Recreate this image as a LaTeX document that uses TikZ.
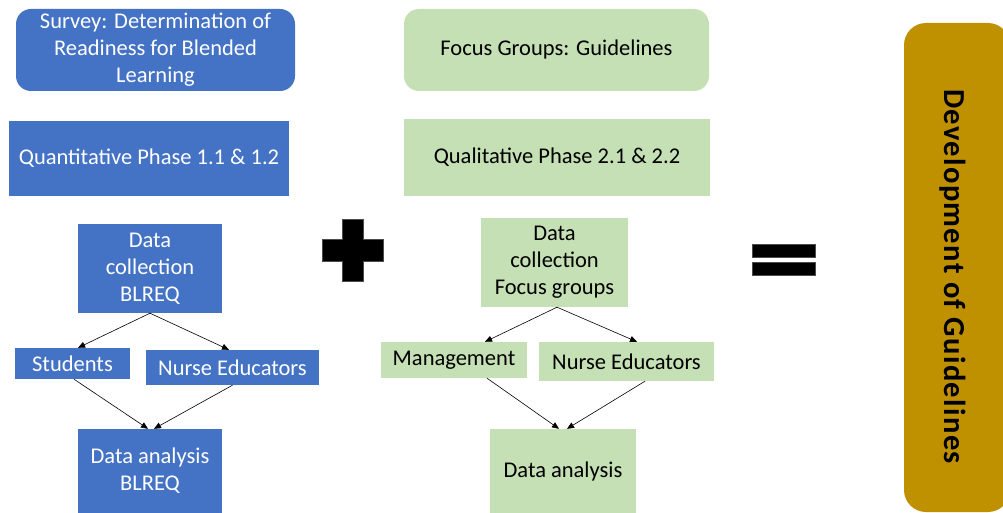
\documentclass[tikz,border=0pt]{standalone}
\usepackage{fontspec}
\setmainfont{Carlito}
\newfontfamily\widebold[LetterSpace=4.5]{Carlito}
\usetikzlibrary{arrows.meta}
\definecolor{qblue}{HTML}{4472C4}
\definecolor{qgreen}{HTML}{C5E0B4}
\definecolor{qgold}{HTML}{BF9000}
\tikzset{
  box/.style={rectangle, inner sep=2pt, align=center,
    font=\fontsize{22.5}{27}\selectfont},
  bluebox/.style={box, fill=qblue, text=white},
  greenbox/.style={box, fill=qgreen, text=black},
  roundbox/.style={rounded corners=15pt},
  flow/.style={draw=black, line width=0.6pt,
    -{Triangle[length=7pt,width=6pt]}},
  sym/.style={fill=black, draw=black!70, line width=0.5pt}
}
\begin{document}
\begin{tikzpicture}[x=1pt,y=-1pt]
\clip (0,0) rectangle (1003,513);
\fill[white] (0,0) rectangle (1003,513);

% quantitative strand
\node[bluebox, roundbox, minimum width=279, minimum height=82] (survey) at (155.5,50)
  {Survey: Determination of\\Readiness for Blended\\Learning};
\node[bluebox, minimum width=280, minimum height=75] (quant) at (149,158.5)
  {Quantitative Phase 1.1 \& 1.2};
\node[bluebox, minimum width=144, minimum height=89] (dcq) at (150,268.5)
  {Data\\collection\\BLREQ};
\node[bluebox, minimum width=115, minimum height=31] (stud) at (72.5,363.5) {Students};
\node[bluebox, minimum width=173, minimum height=35] (nel) at (232.5,367.5) {Nurse Educators};
\node[bluebox, minimum width=144, minimum height=84] (daq) at (150,471)
  {Data analysis\\BLREQ};

\draw[flow] (dcq.south) -- ([xshift=5.5]stud.north);
\draw[flow] (dcq.south) -- ([xshift=-3.5]nel.north);
\draw[flow] ([xshift=1.5]stud.south) -- ([xshift=-2]daq.north);
\draw[flow] (nel.south) -- ([xshift=4]daq.north);

% qualitative strand
\node[greenbox, roundbox, minimum width=305, minimum height=82] (focus) at (556.5,50)
  {Focus Groups: Guidelines};
\node[greenbox, minimum width=306, minimum height=77] (qual) at (557,157.5)
  {Qualitative Phase 2.1 \& 2.2};
\node[greenbox, minimum width=147, minimum height=89] (dcf) at (554.5,262.5)
  {Data\\collection\\Focus groups};
\node[greenbox, minimum width=146, minimum height=36] (mgmt) at (454,360) {Management};
\node[greenbox, minimum width=175, minimum height=39] (ner) at (626.5,361.5) {Nurse Educators};
\node[greenbox, minimum width=146, minimum height=84] (daf) at (563,471) {Data analysis};

\draw[flow] ([xshift=2.5]dcf.south) -- ([xshift=31]mgmt.north);
\draw[flow] ([xshift=2.5]dcf.south) -- ([xshift=10.5]ner.north);
\draw[flow] ([xshift=33]mgmt.south) -- ([xshift=-4]daf.north);
\draw[flow] ([xshift=18.5]ner.south) -- ([xshift=4]daf.north);

% plus and equals signs
\filldraw[sym] (342,219) -- (363,219) -- (363,239) -- (383,239) -- (383,261)
  -- (363,261) -- (363,281) -- (342,281) -- (342,261) -- (322,261)
  -- (322,239) -- (342,239) -- cycle;
\filldraw[sym] (752,244) rectangle (815,257);
\filldraw[sym] (752,262) rectangle (815,275);

% outcome
\node[fill=qgold, rounded corners=22pt, rotate=-90, minimum width=489,
  minimum height=106, inner sep=0pt] (dev) at (957,267.5) {};
\node[rotate=-90, font=\widebold\fontsize{30.5}{34}\selectfont\bfseries, text=black]
  (devtext) at ([xshift=-4,yshift=-9]dev.center) {Development of Guidelines};
\end{tikzpicture}
\end{document}
